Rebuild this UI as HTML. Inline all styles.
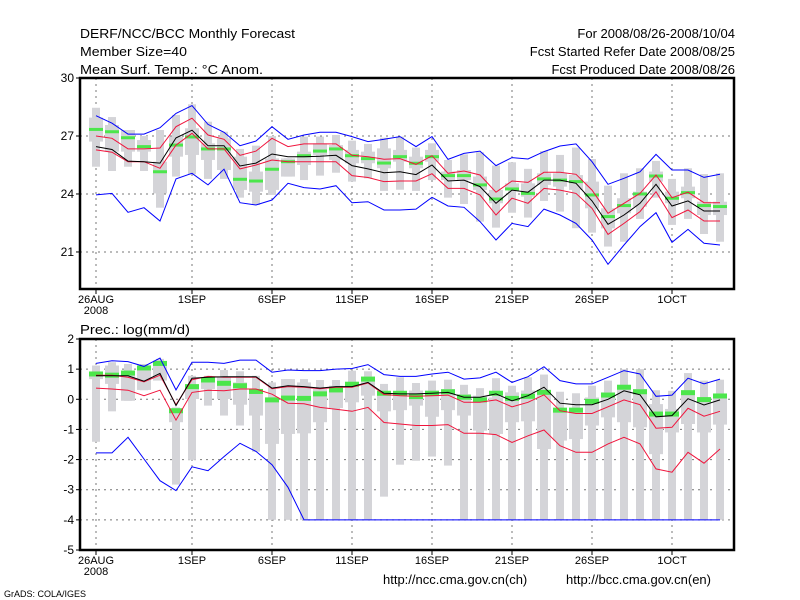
<!DOCTYPE html>
<html><head><meta charset="utf-8">
<style>
html,body{margin:0;padding:0;background:#fff;}
svg{display:block;font-family:"Liberation Sans",sans-serif;}
</style></head>
<body>
<svg id="chart" width="800" height="600" viewBox="0 0 800 600" xmlns="http://www.w3.org/2000/svg">
<rect x="0" y="0" width="800" height="600" fill="#fff"/>
<g font-size="13" fill="#000">
<text x="80" y="38" textLength="215" lengthAdjust="spacingAndGlyphs">DERF/NCC/BCC Monthly Forecast</text>
<text x="80" y="56" textLength="107" lengthAdjust="spacingAndGlyphs">Member Size=40</text>
<text x="80" y="74" textLength="183" lengthAdjust="spacingAndGlyphs">Mean Surf. Temp.: °C Anom.</text>
<text x="735" y="38" text-anchor="end">For 2008/08/26-2008/10/04</text>
<text x="735" y="56" text-anchor="end">Fcst Started Refer Date 2008/08/25</text>
<text x="735" y="74" text-anchor="end">Fcst Produced Date 2008/08/26</text>
<text x="80" y="334" textLength="110" lengthAdjust="spacingAndGlyphs">Prec.: log(mm/d)</text>
<text x="383" y="584">http://ncc.cma.gov.cn(ch)</text>
<text x="566" y="584">http://bcc.cma.gov.cn(en)</text>
<text x="4" y="597" font-size="9">GrADS: COLA/IGES</text>
</g>
<g id="plots"></g>
</svg>
<script>
const dayLabels = ["26AUG","1SEP","6SEP","11SEP","16SEP","21SEP","26SEP","1OCT"];
const dayLabelIdx = [0,6,11,16,21,26,31,36];
const tTicks = [30,27,24,21];
const pTicks = [2,1,0,-1,-2,-3,-4,-5];

const tMean = [26.45,26.3,25.7,25.67,25.6,26.9,27.3,26.5,26.5,25.45,25.6,26.07,25.93,25.93,25.95,26.0,25.47,25.3,25.1,25.15,25.0,25.5,24.67,24.72,24.38,23.52,24.2,24.09,24.72,24.72,24.55,23.64,22.43,22.91,23.52,24.5,23.38,23.64,23.12,23.12];
const tRedHi = [27.0,26.88,26.33,26.33,26.38,27.48,27.92,27.05,26.83,26.0,26.22,26.88,26.45,26.59,26.59,26.59,26.0,25.93,25.8,25.83,25.53,25.98,25.07,25.19,24.98,24.09,24.67,24.6,25.12,25.12,25.02,24.2,23.0,23.52,24.03,24.98,23.81,24.09,23.55,23.55];
const tRedLo = [26.28,26.16,25.67,25.67,25.33,26.53,27.14,26.33,26.33,25.3,25.5,25.76,25.67,25.67,25.67,25.67,24.95,24.85,24.64,24.67,24.67,25.05,24.29,24.29,23.95,22.91,23.78,23.52,24.29,24.2,24.03,23.26,21.91,22.48,23.09,24.12,22.78,23.17,22.6,22.6];
const tBlueHi = [28.05,27.66,27.1,27.1,27.43,28.17,28.57,27.6,27.19,26.5,26.74,27.48,26.83,27.05,27.19,27.19,26.97,26.71,26.83,26.97,26.45,26.97,25.79,26.1,26.22,25.47,25.88,25.81,26.19,26.48,26.59,25.67,24.5,24.81,25.15,26.05,25.24,25.24,24.86,25.02];
const tBlueLo = [23.95,24.03,23.05,23.29,22.6,24.78,25.07,24.47,25.28,23.55,23.43,23.69,24.55,24.33,24.26,24.43,23.55,23.6,23.17,23.17,23.22,23.83,23.38,23.31,22.57,21.62,22.48,22.31,23.22,22.91,22.48,21.62,20.36,21.36,22.31,23.03,21.5,22.17,21.45,21.36];
const tGreen = [27.34,27.22,26.91,26.45,25.15,26.53,26.95,26.33,26.33,24.76,24.67,25.28,25.67,25.98,26.22,26.33,25.98,25.83,25.6,25.93,25.59,25.93,24.95,24.95,24.47,23.74,24.26,24.03,24.78,24.72,24.64,23.95,22.83,23.4,24.0,24.93,23.78,24.07,23.4,23.35];
const tMax = [28.46,27.98,27.31,27.0,27.31,28.09,28.64,27.74,27.22,26.33,26.5,27.0,25.85,26.97,26.97,27.05,26.76,26.59,26.91,26.97,26.4,26.62,25.76,26.05,26.16,25.47,25.64,25.3,26.22,26.02,26.4,25.81,24.43,25.07,25.33,25.71,24.78,25.33,25.03,25.07];
const tMin = [25.41,25.19,25.41,25.19,23.29,24.9,25.02,24.78,24.78,23.81,23.43,23.95,24.9,24.72,24.95,25.1,24.64,24.81,24.16,24.22,24.16,24.72,23.81,23.48,22.57,22.26,23.03,22.78,23.64,23.09,22.23,22.0,21.28,21.53,22.71,23.81,22.4,22.71,21.93,21.53];
const tQ3 = [27.95,27.57,27.31,26.79,25.67,26.97,27.4,26.62,26.88,25.93,25.16,25.84,25.84,26.19,26.62,26.53,26.28,26.19,26.36,26.28,25.93,26.28,25.16,25.24,24.9,24.21,24.55,24.55,25.07,25.07,24.98,24.64,23.26,23.78,24.12,25.16,24.12,24.38,23.6,23.6];
const tQ1 = [26.71,26.19,26.19,26.19,24.03,25.93,26.02,25.76,25.24,24.21,24.12,24.21,24.9,25.5,26.02,25.76,25.59,25.59,25.33,25.67,25.33,25.67,24.72,24.72,24.21,23.52,24.21,23.86,24.47,24.38,24.21,23.26,22.22,23.0,23.34,24.64,23.52,23.78,22.91,22.91];

const pMean = [0.78,0.78,0.78,0.6,0.86,-0.21,0.7,0.73,0.75,0.75,0.75,0.37,0.45,0.42,0.37,0.42,0.42,0.56,0.2,0.18,0.18,0.2,0.23,0.07,0.07,0.18,-0.05,0.12,0.4,-0.13,-0.18,-0.18,0.0,0.28,0.15,-0.58,-0.54,0.02,-0.19,-0.02];
const pRedHi = [0.8,0.8,0.73,0.58,0.8,-0.18,0.65,0.76,0.73,0.73,0.73,0.35,0.42,0.4,0.35,0.4,0.4,0.54,0.16,0.12,0.1,0.12,0.14,-0.1,-0.1,-0.02,-0.25,-0.1,0.15,-0.38,-0.47,-0.47,-0.25,-0.02,-0.18,-0.96,-0.93,-0.3,-0.56,-0.4];
const pRedLo = [0.37,0.34,0.3,0.12,0.3,-0.69,0.23,0.3,0.28,0.34,0.34,0.17,-0.13,-0.15,-0.27,-0.33,-0.4,-0.27,-0.77,-0.82,-0.87,-0.87,-0.84,-1.13,-1.13,-1.17,-1.43,-1.21,-1.02,-1.54,-1.76,-1.76,-1.48,-1.26,-1.48,-2.31,-2.42,-1.76,-2.12,-1.65];
const pBlueHi = [1.19,1.28,1.25,1.09,1.37,0.31,1.23,1.23,1.19,1.3,1.3,0.9,0.97,0.95,0.95,1.0,1.02,1.15,0.82,0.76,0.76,0.84,0.9,0.67,0.71,0.9,0.56,0.75,1.08,0.62,0.51,0.51,0.73,0.95,0.84,0.1,0.14,0.7,0.51,0.67];
const pBlueLo = [-1.78,-1.78,-1.26,-1.98,-2.7,-3.03,-2.24,-2.37,-1.9,-1.46,-1.73,-2.17,-2.92,-4,-4,-4,-4,-4,-4,-4,-4,-4,-4,-4,-4,-4,-4,-4,-4,-4,-4,-4,-4,-4,-4,-4,-4,-4,-4,-4];
const pGreen = [0.84,0.8,0.87,1.04,1.19,-0.38,0.42,0.64,0.53,0.45,0.26,-0.02,0.04,0.03,0.18,0.31,0.5,0.67,0.2,0.2,0.09,0.2,0.25,0.07,-0.02,0.2,0.03,0.1,0.23,-0.36,-0.36,-0.07,0.14,0.4,0.25,-0.49,-0.49,0.22,-0.01,0.11];
const pMax = [1.12,1.23,1.17,1.17,1.34,-0.27,0.78,0.78,0.97,0.93,0.78,0.56,0.67,0.67,0.64,0.64,0.95,0.93,0.51,0.73,0.54,0.62,0.65,0.48,0.37,0.7,0.45,0.73,0.82,0.25,0.2,0.45,0.62,1.0,1.0,0.3,0.28,0.87,0.62,0.65];
const pMin = [-1.41,-0.4,-0.05,0.3,0.64,-2.83,-2.01,-0.21,-0.54,-0.87,-1.74,-4,-4,-4,-4,-4,-4,-4,-3.23,-2.17,-2.04,-1.9,-2.2,-4,-4,-4,-4,-4,-4,-4,-4,-4,-4,-4,-4,-4,-4,-4,-4,-4];
const pQ3 = [0.86,1.12,0.93,1.06,1.17,-0.32,0.45,0.56,0.73,0.56,0.34,0.01,0.67,0.56,0.34,0.45,0.56,0.75,0.26,0.26,0.29,0.29,0.34,0.17,0.12,0.06,0.23,0.29,0.17,-0.29,-0.38,0.06,0.23,0.4,0.34,-0.16,-0.32,0.23,0.06,0.17];
const pQ1 = [0.67,0.51,-0.05,0.31,0.62,-0.76,0.01,0.34,0.01,-0.18,-0.54,-1.48,-1.15,-1.13,-0.76,-0.29,-0.1,0.12,-0.4,-0.36,-0.21,-0.58,-0.36,-0.54,-1.04,-1.15,-0.76,-0.73,-1.65,-1.37,-1.32,-0.87,-0.6,-0.76,-0.93,-1.82,-1.1,-0.82,-1.1,-0.84];

const NS = "http://www.w3.org/2000/svg";
const root = document.getElementById("plots");
const X0 = 80, X1 = 734;
function xs(d){ return 96 + d*16; }
function mk(tag, attrs, parent){
  const e = document.createElementNS(NS, tag);
  for (const k in attrs) e.setAttribute(k, attrs[k]);
  (parent||root).appendChild(e);
  return e;
}

function panel(cfg){
  const g = mk("g", {});
  
  
  const ys = v => cfg.top + (cfg.vmax - v) * (cfg.bot - cfg.top) / (cfg.vmax - cfg.vmin);
  cfg.ticks.forEach(t => {
    const y = ys(t);
    if (t < cfg.vmax && t > cfg.vmin) {
      const l = mk("line", {x1:X0, x2:X1, y1:y, y2:y, stroke:"#777", "stroke-width":1, "stroke-dasharray":"2,4"}, g);
      
      
    }
    const tk = mk("line", {x1:X0-4, x2:X0, y1:y, y2:y, stroke:"#000"}, g);
    
    
    const tx = mk("text", {x:X0-6, y:y+4, "text-anchor":"end", "font-size":12}, g);
    
    
    tx.textContent = t;
  });
  dayLabelIdx.forEach((d,i) => {
    const x = xs(d);
    const l = mk("line", {x1:x, x2:x, y1:cfg.top, y2:cfg.bot, stroke:"#777", "stroke-width":1, "stroke-dasharray":"2,4"}, g);
    
    
    const tk = mk("line", {x1:x, x2:x, y1:cfg.bot, y2:cfg.bot+5, stroke:"#000"}, g);
    
    
    const tx = mk("text", {x:x, y:cfg.bot+14, "text-anchor":"middle", "font-size":11}, g);
    
    
    tx.textContent = dayLabels[i];
    if (i === 0) {
      const yr = mk("text", {x:x, y:cfg.bot+25, "text-anchor":"middle", "font-size":11}, g);
      
      
      yr.textContent = "2008";
    }
  });
  for (let d = 0; d < cfg.mean.length; d++) {
    const x = xs(d);
    const w = mk("rect", {x:x-4, y:ys(cfg.max[d]), width:8, height:Math.max(1, ys(cfg.min[d]) - ys(cfg.max[d])), fill:"#d4d4d8"}, g);
    
    
    const b = mk("rect", {x:x-7, y:ys(cfg.q3[d]), width:14, height:Math.max(1, ys(cfg.q1[d]) - ys(cfg.q3[d])), fill:"#d4d4d8"}, g);
    
    
  }
  for (let d = 0; d < cfg.green.length; d++) {
    const r = mk("rect", {x:xs(d)-7, y:ys(cfg.green[d]) - cfg.gh/2, width:14, height:cfg.gh, fill:"#4ce64c"}, g);
    
    
  }
  function line(arr, color, name){
    const pts = arr.map((v,d) => xs(d)+","+ys(v).toFixed(1)).join(" ");
    const p = mk("polyline", {points:pts, fill:"none", stroke:color, "stroke-width":1}, g);
    
    
  }
  line(cfg.blueHi, "#0000ff", "blue-upper-line");
  line(cfg.blueLo, "#0000ff", "blue-lower-line");
  line(cfg.redHi, "#f0143c", "red-upper-line");
  line(cfg.redLo, "#f0143c", "red-lower-line");
  line(cfg.mean, "#000", "ensemble-mean-line");
  const f = mk("rect", {x:X0, y:cfg.top, width:X1-X0, height:cfg.bot-cfg.top, fill:"none", stroke:"#000", "stroke-width":2.5}, g);
  
  
}

panel({name:"temperature-panel", top:78, bot:289, vmax:30, vmin:30-211/19.33, ticks:tTicks,
  mean:tMean, redHi:tRedHi, redLo:tRedLo, blueHi:tBlueHi, blueLo:tBlueLo, green:tGreen,
  max:tMax, min:tMin, q3:tQ3, q1:tQ1, gh:3});
panel({name:"precipitation-panel", top:339, bot:550, vmax:2, vmin:-5, ticks:pTicks,
  mean:pMean, redHi:pRedHi, redLo:pRedLo, blueHi:pBlueHi, blueLo:pBlueLo, green:pGreen,
  max:pMax, min:pMin, q3:pQ3, q1:pQ1, gh:5});
</script>
</body></html>
